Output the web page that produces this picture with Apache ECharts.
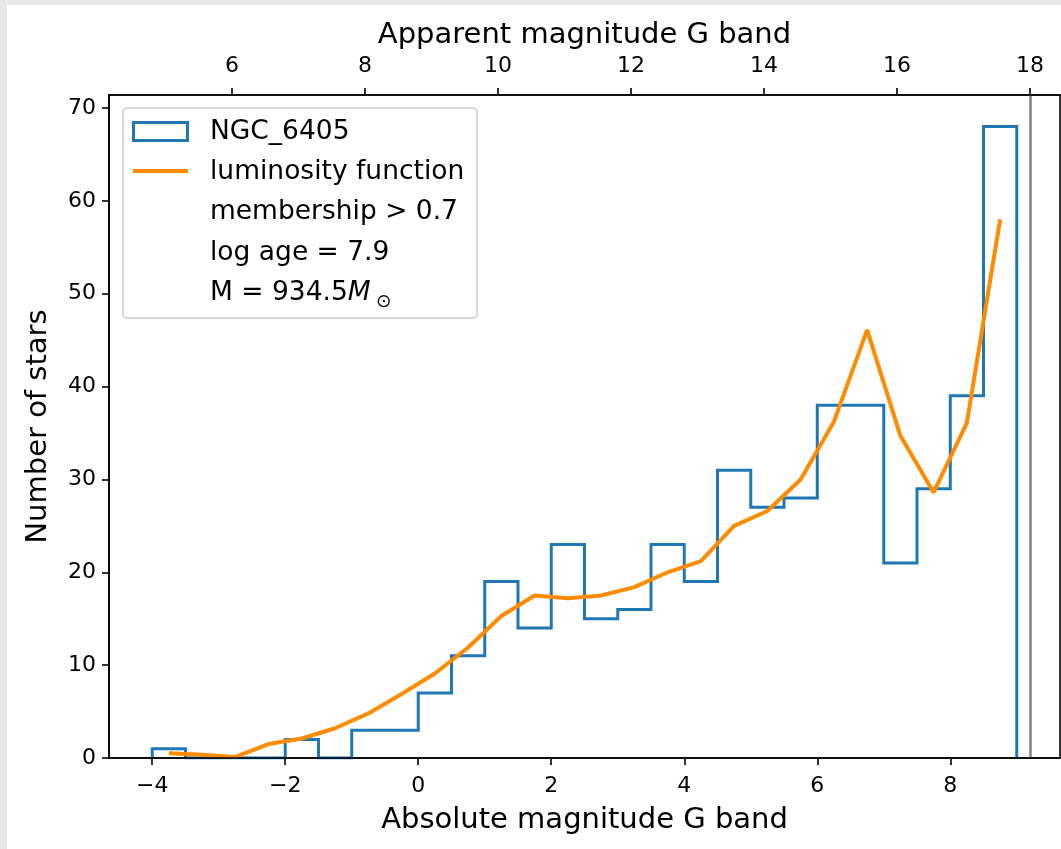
<!DOCTYPE html>
<html>
<head>
<meta charset="utf-8">
<title>NGC 6405 luminosity function</title>
<script src="https://cdn.jsdelivr.net/npm/echarts@6/dist/echarts.min.js"></script>
<style>
  html, body { margin: 0; padding: 0; background: #e8e8e8; }
  #chart { position: absolute; left: 7px; top: 5px; width: 1054px; height: 844px; background: #ffffff; }
</style>
</head>
<body>
<div id="chart"></div>
<script>
// Histogram of member stars (absolute G magnitude, 0.5 mag bins)
const binEdges = [-4, -3.5, -3, -2.5, -2, -1.5, -1, -0.5, 0, 0.5, 1, 1.5, 2, 2.5, 3, 3.5, 4, 4.5, 5, 5.5, 6, 6.5, 7, 7.5, 8, 8.5, 9];
const binCounts = [1, 0, 0, 0, 2, 0, 3, 3, 7, 11, 19, 14, 23, 15, 16, 23, 19, 31, 27, 28, 38, 38, 21, 29, 39, 68];

// Fitted luminosity function
const lfMag = [-3.75, -3.25, -2.75, -2.25, -1.75, -1.25, -0.75, -0.25, 0.25, 0.75, 1.25, 1.75, 2.25, 2.75, 3.25, 3.75, 4.25, 4.75, 5.25, 5.75, 6.25, 6.75, 7.25, 7.75, 8.25, 8.75];
const lfCount = [0.5, 0.35, 0.12, 1.5, 2.1, 3.2, 4.8, 6.9, 9.1, 11.9, 15.3, 17.5, 17.2, 17.5, 18.4, 20.0, 21.2, 25.0, 26.6, 30.0, 36.2, 46.1, 34.7, 28.6, 36.1, 58.0];

// Axis ticks
const absTicks = [-4, -2, 0, 2, 4, 6, 8];
const appTicks = [6, 8, 10, 12, 14, 16, 18];
const countTicks = [0, 10, 20, 30, 40, 50, 60, 70];

// Distance modulus linking apparent and absolute magnitude, and the completeness limit
const distanceModulus = 8.8;
const apparentLimit = 18;

const absRange = [-4.65, 9.65];
const countMax = 71.4;

// Step outline of the histogram
const stepPoints = [[binEdges[0], 0]];
binCounts.forEach((c, i) => {
  stepPoints.push([binEdges[i], c]);
  stepPoints.push([binEdges[i + 1], c]);
});
stepPoints.push([binEdges[binEdges.length - 1], 0]);

const FONT = 'DejaVu Sans';
const fmtNum = v => (v < 0 ? '\u2212' + Math.abs(v) : String(v));
const tickStyle = { show: true, length: 7, inside: false, lineStyle: { color: '#000', width: 1.6 } };
const labelStyle = { color: '#000', fontFamily: FONT, fontSize: 22 };
const nameStyle = { color: '#000', fontFamily: FONT, fontSize: 29 };
const spine = { show: true, onZero: false, lineStyle: { color: '#000', width: 1.6 } };

const chart = echarts.init(document.getElementById('chart'), null, { renderer: 'canvas' });

const legendRows = ['NGC_6405', 'luminosity function', 'membership > 0.7', 'log age = 7.9'];
const legendText = { fill: '#000', font: '26.5px "DejaVu Sans"', verticalAlign: 'middle', align: 'left' };

const legendGraphic = [
  { type: 'rect', shape: { x: 116, y: 103, width: 354, height: 210, r: 4 },
    style: { fill: 'rgba(255,255,255,0.8)', stroke: '#cccccc', lineWidth: 1.6 }, z: 100 },
  { type: 'rect', shape: { x: 126.5, y: 117.5, width: 54, height: 18 },
    style: { fill: 'none', stroke: '#1f77b4', lineWidth: 3 }, z: 101 },
  { type: 'line', shape: { x1: 126, y1: 166, x2: 181, y2: 166 },
    style: { stroke: '#ff8c00', lineWidth: 4 }, z: 101 }
];
legendRows.forEach((t, i) => {
  legendGraphic.push({ type: 'text', x: 203, y: 127 + 40.3 * i,
    style: Object.assign({ text: t }, legendText), z: 101 });
});
legendGraphic.push({ type: 'text', x: 203, y: 127 + 40.3 * 4, z: 101,
  style: { text: '{r|M = 934.5}{i|M}', verticalAlign: 'middle', align: 'left',
    rich: { r: { fontFamily: FONT, fontSize: 26.5, color: '#000' },
            i: { fontFamily: FONT, fontSize: 26.5, fontStyle: 'italic', color: '#000' } } } });
legendGraphic.push({ type: 'text', x: 369, y: 297, z: 101,
  style: { text: '\u2299', fill: '#000', font: '18.5px "DejaVu Sans"', verticalAlign: 'middle', align: 'left' } });

chart.setOption({
  animation: false,
  backgroundColor: '#ffffff',
  grid: {
    left: 102, top: 90, right: 1, bottom: 91,
    show: true, backgroundColor: '#ffffff', borderColor: '#000', borderWidth: 1.6,
    outerBoundsMode: 'none', containLabel: false
  },
  xAxis: [
    {
      type: 'value', position: 'bottom', min: absRange[0], max: absRange[1], z: 10,
      name: 'Absolute magnitude G band', nameLocation: 'middle', nameGap: 48, nameTextStyle: nameStyle,
      axisLine: spine,
      axisTick: Object.assign({ customValues: absTicks }, tickStyle),
      axisLabel: Object.assign({ customValues: absTicks, margin: 17, formatter: fmtNum }, labelStyle),
      splitLine: { show: false }
    },
    {
      type: 'value', position: 'top', z: 10,
      min: absRange[0] + distanceModulus, max: absRange[1] + distanceModulus,
      name: 'Apparent magnitude G band', nameLocation: 'middle', nameGap: 45, nameTextStyle: nameStyle,
      axisLine: spine,
      axisTick: Object.assign({ customValues: appTicks }, tickStyle),
      axisLabel: Object.assign({ customValues: appTicks, margin: 18, formatter: fmtNum }, labelStyle),
      splitLine: { show: false }
    }
  ],
  yAxis: {
    type: 'value', position: 'left', min: 0, max: countMax, z: 10,
    name: 'Number of stars', nameLocation: 'middle', nameGap: 56, nameTextStyle: nameStyle,
    axisLine: spine,
    axisTick: Object.assign({ customValues: countTicks }, tickStyle),
    axisLabel: Object.assign({ customValues: countTicks, margin: 13, formatter: fmtNum }, labelStyle),
    splitLine: { show: false }
  },
  series: [
    {
      name: 'NGC_6405', type: 'line', xAxisIndex: 0, data: stepPoints,
      showSymbol: false, symbol: 'none', clip: true, z: 2,
      lineStyle: { color: '#1f77b4', width: 3, join: 'miter' },
      markLine: {
        silent: true, symbol: 'none', label: { show: false },
        lineStyle: { color: '#808080', width: 2.5, type: 'solid' },
        data: [{ xAxis: apparentLimit - distanceModulus }]
      }
    },
    {
      name: 'luminosity function', type: 'line', xAxisIndex: 0,
      data: lfMag.map((m, i) => [m, lfCount[i]]),
      showSymbol: false, symbol: 'none', clip: true, z: 3,
      lineStyle: { color: '#ff8c00', width: 4 }
    }
  ],
  graphic: legendGraphic
});
</script>
</body>
</html>
